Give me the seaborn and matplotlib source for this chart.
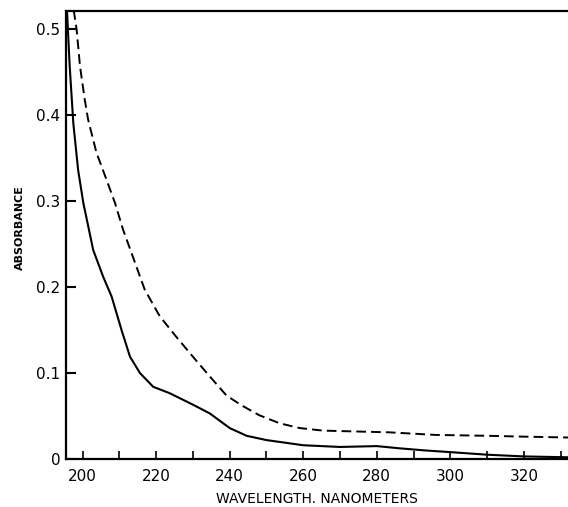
import matplotlib
matplotlib.use("Agg")
import matplotlib.pyplot as plt
import seaborn as sns
import pandas as pd

# Curva continua (muestra)
wl_solid = [195.8, 196.5, 197.5, 198.8, 200.2, 202.9, 205.6, 207.9, 210.6, 212.9,
            215.6, 219.2, 223.7, 230.1, 234.6, 240.0, 244.6, 250, 260, 270,
            280, 286, 293, 300, 310, 320, 332]
abs_solid = [0.519, 0.457, 0.390, 0.336, 0.298, 0.243, 0.212, 0.189, 0.150, 0.119,
             0.100, 0.084, 0.0765, 0.063, 0.053, 0.036, 0.027, 0.022, 0.016, 0.014,
             0.015, 0.0125, 0.010, 0.008, 0.005, 0.003, 0.002]

# Curva discontinua
wl_dashed = [197.6, 198.4, 199.3, 200.6, 201.5, 202.2, 203.8, 206.5, 208.8, 211.0,
             213.7, 216.9, 221.0, 225.5, 230.0, 234.6, 239.1, 243, 248,
             253.6, 259, 265.4, 274.5, 283.5, 296, 310, 320, 332]
abs_dashed = [0.522, 0.499, 0.457, 0.418, 0.395, 0.383, 0.356, 0.325, 0.298, 0.267,
              0.235, 0.197, 0.166, 0.142, 0.119, 0.096, 0.074, 0.063, 0.051,
              0.0415, 0.036, 0.033, 0.032, 0.031, 0.028, 0.027, 0.026, 0.025]

x_major = [200, 220, 240, 260, 280, 300, 320]
x_minor = [210, 230, 250, 270, 290, 310, 330]
y_ticks = [0, 0.1, 0.2, 0.3, 0.4, 0.5]
y_labels = ["0", "0.1", "0.2", "0.3", "0.4", "0.5"]

df_solid = pd.DataFrame({"wl": wl_solid, "abs": abs_solid})
df_dashed = pd.DataFrame({"wl": wl_dashed, "abs": abs_dashed})

sns.set_style("white")
plt.rcParams["font.family"] = ["DejaVu Sans"]
plt.rcParams["text.color"] = "black"
plt.rcParams["axes.labelcolor"] = "black"

fig = plt.figure(figsize=(5.68, 5.07), dpi=100)
ax = fig.add_axes([66 / 568, 1 - 459 / 507, 502 / 568, 448 / 507])

sns.lineplot(data=df_solid, x="wl", y="abs", ax=ax, color="black", lw=1.5, sort=False)
sns.lineplot(data=df_dashed, x="wl", y="abs", ax=ax, color="black", lw=1.4,
             linestyle=(0, (5, 2.6)), sort=False)

ax.set_xlim(195.5, 332)
ax.set_ylim(0, 0.521)

ax.set_xticks(x_major)
ax.set_xticklabels([str(v) for v in x_major])
ax.set_xticks(x_minor, minor=True)
ax.set_yticks(y_ticks)
ax.set_yticklabels(y_labels)

ax.tick_params(axis="x", which="both", bottom=True, direction="in", length=6,
               width=1.2, labelsize=11, pad=7, colors="black")
ax.tick_params(axis="y", which="both", left=True, direction="in", length=7,
               width=1.5, labelsize=11, pad=4, colors="black")

for side in ["left", "bottom", "top"]:
    ax.spines[side].set_visible(True)
    ax.spines[side].set_color("black")
    ax.spines[side].set_linewidth(1.6)
ax.spines["right"].set_visible(False)

ax.set_xlabel("WAVELENGTH. NANOMETERS", fontsize=10, labelpad=6)
ax.set_ylabel("ABSORBANCE", fontsize=8, fontweight="bold")
ax.yaxis.set_label_coords(-0.082, 0.516)

fig.savefig("out.png", dpi=100)
